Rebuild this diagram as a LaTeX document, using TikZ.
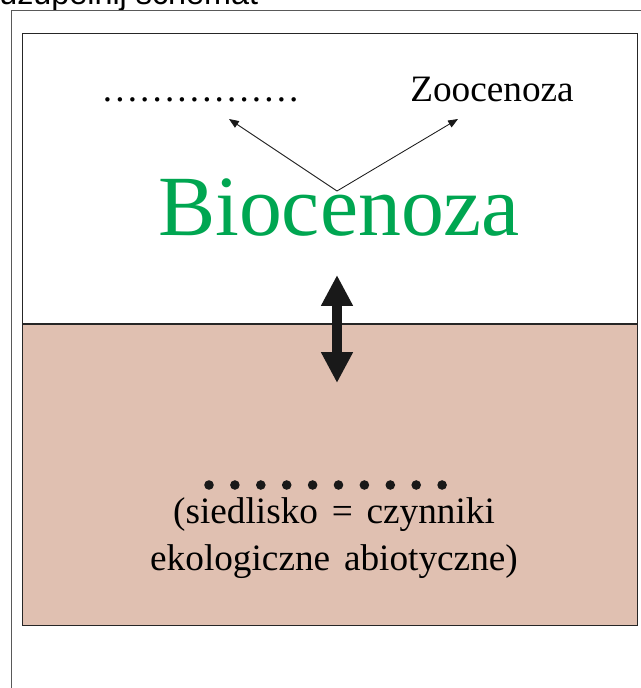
\documentclass[tikz,border=0pt]{standalone}
\usepackage{fontspec}
\setmainfont{Liberation Serif}
\newfontfamily\headfont{Liberation Sans}
\usetikzlibrary{arrows.meta}
\definecolor{bioGreen}{RGB}{0,166,81}
\definecolor{soilBrown}{RGB}{224,192,177}
\newcommand{\bigtext}{\fontsize{26.5}{33}\selectfont}
\newcommand{\wsp}{\kern0.12em\ }

\begin{document}
\begin{tikzpicture}[x=0.025cm, y=-0.025cm,
  thin arrow/.style={-{Triangle[length=7pt,width=5.5pt]}, line width=0.6pt, black!90},
  fat arrow/.style={{Triangle[length=22pt,width=21.3pt]}-{Triangle[length=22pt,width=21.3pt]},
    line width=7.1pt, black!90}]
  \useasboundingbox (0,0) rectangle (640,688);

  % sheet frame and task line
  \node[anchor=base west, inner sep=0, font=\headfont\fontsize{23}{28}\selectfont] (task) at (-1,5) {uzupełnij schemat};
  \draw[black!65, line width=0.8pt] (11.7,700) |- (660,10.7);

  % the two parts
  \fill[soilBrown] (22.7,324) rectangle (637.7,625.7);
  \draw[black!85, line width=0.9pt] (22.7,33.7) rectangle (637.7,625.7);
  \draw[black!85, line width=0.9pt] (22.7,324) -- (637.7,324);

  % Biocenoza
  % ---------
  \node[anchor=base, inner sep=0, font=\bigtext] (phyto) at (200,102) {……………\kern0.04em.};
  \node[anchor=base, inner sep=0, font=\bigtext] (zoo) at (492,102) {Zoocenoza};
  \node[anchor=base, inner sep=0, text=bioGreen, font=\fontsize{61}{72}\selectfont] (bio) at (339,236) {Biocenoza};

  \coordinate (fork) at (337,191);
  \coordinate (toPhyto) at (229,119);
  \coordinate (toZoo) at (458,119);
  \draw[thin arrow] (fork) -- (toPhyto);
  \draw[thin arrow] (fork) -- (toZoo);

  \coordinate (up) at (337,275);
  \coordinate (down) at (337,383);
  \draw[fat arrow] (up) -- (down);

  % Biotop
  % ------
  \foreach \i in {0,...,9}
    \fill[black!90] (209+25.9*\i,485) circle (4.8);

  \node[anchor=base, align=center, inner sep=0, font=\bigtext] (habitat) at (334,570)
    {(siedlisko\wsp=\wsp czynniki\\ekologiczne\wsp abiotyczne)};
\end{tikzpicture}
\end{document}
